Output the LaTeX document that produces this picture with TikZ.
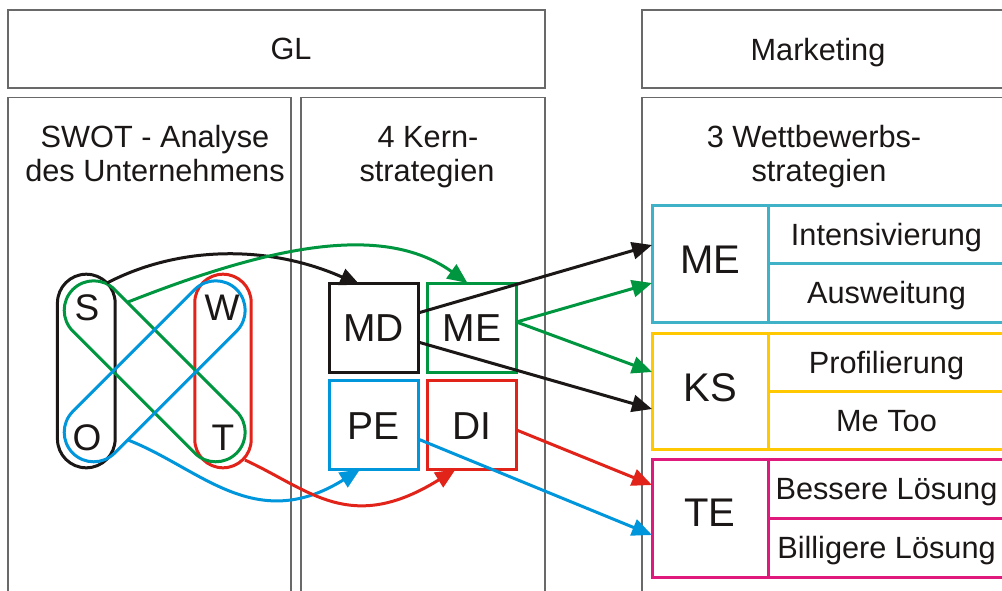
\documentclass[tikz,border=0pt]{standalone}
\usepackage{fontspec}
\setmainfont{Liberation Sans}
\usetikzlibrary{arrows.meta,calc}
\definecolor{cblack}{RGB}{26,23,22}
\definecolor{cgreen}{RGB}{0,150,64}
\definecolor{cred}{RGB}{226,35,26}
\definecolor{cblue}{RGB}{0,150,220}
\definecolor{ccyan}{RGB}{64,178,200}
\definecolor{cyellow}{RGB}{255,200,0}
\definecolor{cmagenta}{RGB}{224,25,125}
\definecolor{cframe}{RGB}{105,105,105}
\begin{document}
\begin{tikzpicture}[x=1pt,y=-1pt,
  frm/.style={draw=cframe, line width=1.3pt},
  hdr/.style={font=\fontsize{30.7}{36}\selectfont, text=cblack, anchor=base, inner sep=0pt},
  stad/.style={line width=3pt, inner sep=0pt, outer sep=0pt},
  swl/.style={font=\fontsize{37}{40}\selectfont, text=cblack, text height=26.5pt, text depth=0pt, inner sep=0pt},
  midbox/.style={line width=3pt, minimum width=89pt, minimum height=89pt, inner sep=0pt, outer sep=0pt,
     font=\fontsize{39}{42}\selectfont, text=cblack, text height=28pt, text depth=0pt},
  bigcell/.style={line width=3pt, minimum width=116pt, inner sep=0pt, outer sep=0pt,
     font=\fontsize{40}{44}\selectfont, text=cblack, text height=28.6pt},
  subcell/.style={line width=3pt, minimum width=237pt, inner sep=0pt, outer sep=0pt,
     font=\fontsize{30.7}{36}\selectfont, text=cblack, text height=22pt, text depth=0pt},
  arr/.style={line width=3pt, -{Triangle[length=20pt,width=17pt]}}
]
\useasboundingbox (0,0) rectangle (1002,590);
\fill[white] (0,0) rectangle (1002,590);
% frames
\draw[frm] (8,10) rectangle (545,88);
\draw[frm] (642,10) rectangle (1010,88);
\draw[frm] (8,97.5) rectangle (291,600);
\draw[frm] (301,97.5) rectangle (545,600);
\draw[frm] (642,97.5) rectangle (1010,600);
% headings
\node[hdr] (tgl) at (291,59.3) {GL};
\node[hdr] (tmk) at (818,60) {Marketing};
\node[hdr] (tsw1) at (155,147.5) {SWOT - Analyse};
\node[hdr] (tsw2) at (155,181.5) {des Unternehmens};
\node[hdr] (tk1) at (428,147.5) {4 Kern-};
\node[hdr] (tk2) at (427,181.5) {strategien};
\node[hdr] (tw1) at (814,147.5) {3 Wettbewerbs-};
\node[hdr] (tw2) at (819,181.5) {strategien};
% SWOT groups
\node[stad, draw=cblack, rounded corners=28.8pt, minimum width=57.7pt, minimum height=193.6pt] (so) at (86.3,371) {};
\node[stad, draw=cred, rounded corners=28.2pt, minimum width=56.4pt, minimum height=193.6pt] (wt) at (223,371) {};
\node[stad, draw=cgreen, rotate=-45, rounded corners=29.5pt, minimum width=231.5pt, minimum height=59pt] (st) at (154.7,371.3) {};
\node[stad, draw=cblue, rotate=45, rounded corners=29.5pt, minimum width=231.5pt, minimum height=59pt] (ow) at (154.7,371.3) {};
\node[swl] (S) at (87,307) {S};
\node[swl] (W) at (222,307) {W};
\node[swl] (O) at (87,437) {O};
\node[swl] (T) at (223,437) {T};
% core strategies
\node[midbox, draw=cblack] (MD) at (373.5,327.5) {MD};
\node[midbox, draw=cgreen] (MEk) at (472,327.5) {ME};
\node[midbox, draw=cblue] (PE) at (373.5,425) {PE};
\node[midbox, draw=cred] (DI) at (472,425) {DI};
% competitive strategies
\node[bigcell, draw=ccyan, minimum height=117pt, text depth=9pt] (MEr) at (710,263.5) {ME};
\node[subcell, draw=ccyan, minimum height=58.5pt] (int) at (886.5,234.25) {Intensivierung};
\node[subcell, draw=ccyan, minimum height=58.5pt] (aus) at (886.5,292.75) {Ausweitung};
\node[bigcell, draw=cyellow, minimum height=116pt, text depth=8pt] (KSr) at (710,391) {KS};
\node[subcell, draw=cyellow, minimum height=58pt] (pro) at (886.5,362) {Profilierung};
\node[subcell, draw=cyellow, minimum height=58pt] (met) at (886.5,420) {Me Too};
\node[bigcell, draw=cmagenta, minimum height=118pt, text depth=11pt] (TEr) at (710,518) {TE};
\node[subcell, draw=cmagenta, minimum height=59pt] (bes) at (886.5,488.5) {Bessere Lösung};
\node[subcell, draw=cmagenta, minimum height=59pt] (bil) at (886.5,547.5) {Billigere Lösung};
% curved arrows from SWOT
\draw[arr, cblack] ($(so.north)+(20.7,8.8)$) .. controls (180,245) and (270,245) .. ($(MD.north west)+(31,2)$);
\draw[arr, cgreen] ($(st.center)+(-26.7,-69.3)$) .. controls (260,250) and (380,220) .. ($(MEk.north west)+(40,0)$);
\draw[arr, cblue] ($(ow.center)+(-26.7,68.7)$) .. controls (200,468) and (255,535) .. ($(PE.south west)+(31,0)$);
\draw[arr, cred] ($(wt.south)+(22,-7.8)$) .. controls (310,490) and (350,535) .. ($(DI.south west)+(28,0)$);
% straight arrows
\draw[arr, cblack] ($(MD.east)+(0,-14.5)$) -- ($(MEr.west)+(0,-18.5)$);
\draw[arr, cgreen] ($(MEk.east)+(0,-5.5)$) -- ($(MEr.west)+(0,19.5)$);
\draw[arr, cgreen] ($(MEk.east)+(0,-5.5)$) -- ($(KSr.west)+(0,-19)$);
\draw[arr, cblack] ($(MD.east)+(0,14.5)$) -- ($(KSr.west)+(0,18)$);
\draw[arr, cblue] ($(PE.east)+(0,14)$) -- ($(TEr.west)+(0,17)$);
\draw[arr, cred] ($(DI.east)+(0,5)$) -- ($(TEr.west)+(0,-33)$);
\end{tikzpicture}
\end{document}
